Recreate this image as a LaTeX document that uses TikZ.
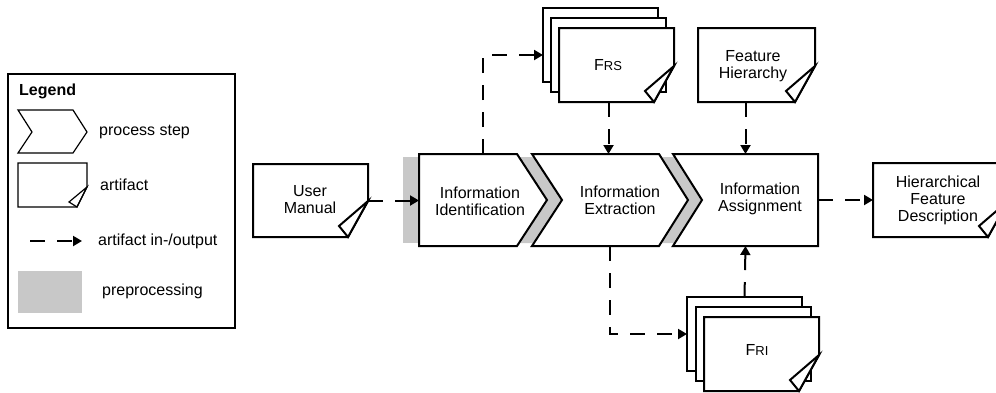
\documentclass[tikz,border=0pt]{standalone}
\usepackage{fontspec}
\setmainfont{Liberation Sans}
\usetikzlibrary{arrows.meta}
\pgfdeclarelayer{shade}
\pgfdeclarelayer{paper}
\pgfsetlayers{shade,paper,main}
\definecolor{prepgray}{RGB}{200,200,200}

% dog-eared document outline around an (empty) area node
\newcommand\drawartifact[1]{%
  \draw[outline,fill=white] (#1.north west) -- (#1.north east)
    -- ([yshift=36pt]#1.south east) -- ([xshift=-20pt]#1.south east)
    -- (#1.south west) -- cycle;
  \draw[outline,fill=white] ([yshift=36pt]#1.south east)
    -- ([shift={(-29pt,11pt)}]#1.south east) -- ([xshift=-20pt]#1.south east) -- cycle;
}

\begin{document}
\begin{tikzpicture}[x=1pt,y=-1pt,
  area/.style={inner sep=0pt,outer sep=0pt,minimum width=#1},
  outline/.style={line width=2pt,draw=black},
  thinline/.style={line width=1.2pt,draw=black},
  io/.style={line width=2pt,dash pattern=on 15pt off 12pt,-{Triangle[length=9pt,width=10pt]}},
  lbl/.style={font=\fontsize{16}{17}\selectfont,align=center,inner sep=0pt},
  leglbl/.style={font=\fontsize{16}{17}\selectfont,anchor=west,inner sep=0pt},
]
\useasboundingbox (0,0) rectangle (996,392);

% ---------- shape areas ----------
\node[area=115pt,minimum height=73pt] (um) at (310.5,200.5) {};
\node[area=128pt,minimum height=92pt] (ident) at (483,200) {};
\node[area=156pt,minimum height=92pt] (ext) at (610,200) {};
\node[area=145pt,minimum height=92pt] (assign) at (745.5,200) {};
\node[area=135pt,minimum height=74pt] (hfd) at (940.5,200) {};
\node[area=115pt,minimum height=74pt] (frs3) at (600.5,45) {};
\node[area=115pt,minimum height=74pt] (frs2) at (608.5,55) {};
\node[area=115pt,minimum height=74pt] (frs1) at (616.5,65) {};
\node[area=117pt,minimum height=74pt] (fh) at (756.5,65) {};
\node[area=115pt,minimum height=74pt] (fri3) at (744.5,334) {};
\node[area=115pt,minimum height=74pt] (fri2) at (753.5,344) {};
\node[area=115pt,minimum height=74pt] (fri1) at (761.5,354) {};

% ---------- preprocessing shading ----------
\begin{pgfonlayer}{shade}
  \fill[prepgray] (403,157) rectangle (425,243);
  \fill[prepgray] (510,157) -- (540,157) -- (570,200) -- (540,243) -- (510,243) -- (540,200) -- cycle;
  \fill[prepgray] (651,157) -- (681,157) -- (711,200) -- (681,243) -- (651,243) -- (681,200) -- cycle;
\end{pgfonlayer}

% ---------- outlines ----------
\begin{pgfonlayer}{paper}
  \drawartifact{um}
  \draw[outline,fill=white] (ident.north west) -- ([xshift=-30pt]ident.north east) -- (ident.east)
    -- ([xshift=-30pt]ident.south east) -- (ident.south west) -- cycle;
  \draw[outline,fill=white] (ext.north west) -- ([xshift=-29pt]ext.north east) -- (ext.east)
    -- ([xshift=-29pt]ext.south east) -- (ext.south west) -- ([xshift=30pt]ext.west) -- cycle;
  \draw[outline,fill=white] (assign.north west) -- (assign.north east) -- (assign.south east)
    -- (assign.south west) -- ([xshift=29pt]assign.west) -- cycle;
  \drawartifact{hfd}
  \draw[outline,fill=white] (frs3.north west) rectangle (frs3.south east);
  \draw[outline,fill=white] (frs2.north west) rectangle (frs2.south east);
  \drawartifact{frs1}
  \drawartifact{fh}
  \draw[outline,fill=white] (fri3.north west) rectangle (fri3.south east);
  \draw[outline,fill=white] (fri2.north west) rectangle (fri2.south east);
  \drawartifact{fri1}
\end{pgfonlayer}

% ---------- texts ----------
\node[lbl] (umtxt) at (310,200) {User\\Manual};
\node[lbl] (identtxt) at (480,201) {Information\\Identification};
\node[lbl] (exttxt) at (620,200) {Information\\Extraction};
\node[lbl] (assigntxt) at (760,199) {Information\\Assignment};
\node[lbl] (hfdtxt) at (938,200) {Hierarchical\\Feature\\Description};
\node[lbl] (frstxt) at (608,65) {F{\fontsize{13}{13}\selectfont RS}};
\node[lbl] (fhtxt) at (753,66) {Feature\\Hierarchy};
\node[lbl] (fritxt) at (757,350) {F{\fontsize{13}{13}\selectfont RI}};

% ---------- artifact flow ----------
\draw[io] (um.east) -- (um.east -| ident.west);
\draw[io] (ident.north) |- (frs3.west |- frs2.west);
\draw[io] (frs2.south |- frs1.south) -- (frs2.south |- ext.north);
\draw[io] (fh.south -| assign.north) -- (assign.north);
\draw[io] (ext.south) |- (fri3.west);
\draw[io] (fri3.north) -- (assign.south);
\draw[io] (assign.east) -- (hfd.west);

% ---------- legend ----------
\draw[thinline] (8,74) rectangle (235,328);
\node[leglbl,font=\fontsize{16}{17}\selectfont\bfseries] (legtitle) at (19,91) {Legend};
\draw[thinline] (18,110) -- (73,110) -- (87,132) -- (73,153) -- (18,153) -- (32,132) -- cycle;
\node[leglbl] (legstep) at (99,132) {process step};
\draw[thinline] (18,163) -- (87,163) -- (87,187) -- (77,207) -- (18,207) -- cycle;
\draw[thinline] (87,187) -- (69,202) -- (77,207) -- cycle;
\node[leglbl] (legart) at (100,185) {artifact};
\coordinate (legfrom) at (30,241);
\coordinate (legto) at (82,241);
\draw[io] (legfrom) -- (legto);
\node[leglbl] (legio) at (98,241) {artifact in-/output};
\fill[prepgray] (18,271) rectangle (82,313);
\node[leglbl] (legprep) at (102,291) {preprocessing};
\end{tikzpicture}
\end{document}
